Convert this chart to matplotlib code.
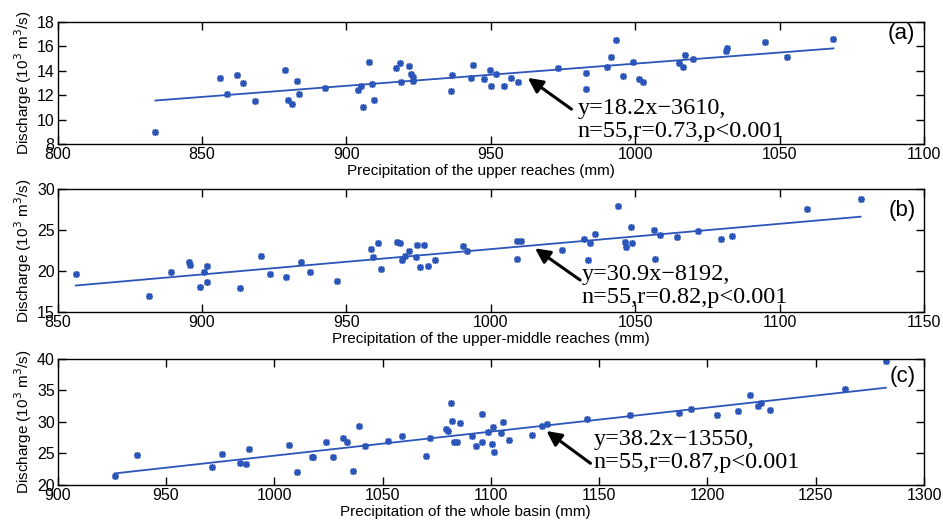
import numpy as np
from matplotlib import pyplot as plt
from matplotlib.ticker import MultipleLocator

# panel (a): upper reaches
prec_upper = [833.9, 856.1, 858.7, 862.2, 864.2, 868.3, 878.8, 879.9, 881.3, 883.0,
              883.5, 892.6, 904.0, 905.1, 905.8, 907.9, 908.7, 909.4, 917.1, 918.5,
              918.8, 921.7, 922.3, 922.9, 923.1, 936.5, 936.3, 943.7, 943.1, 947.7,
              949.7, 950.2, 951.7, 954.7, 956.9, 959.5, 973.4, 982.8, 982.8, 990.1,
              991.5, 993.2, 995.9, 999.1, 1001.4, 1002.6, 1015.2, 1016.5, 1017.1, 1019.9,
              1031.6, 1031.5, 1045.0, 1052.4, 1068.6]
dis_upper = [8.98, 13.40, 12.11, 13.62, 13.04, 11.51, 14.05, 11.62, 11.29, 13.18,
             12.09, 12.63, 12.41, 12.74, 11.05, 14.70, 12.93, 11.62, 14.21, 14.65,
             13.07, 14.38, 13.73, 13.18, 13.48, 13.64, 12.33, 14.48, 13.40, 13.34,
             14.05, 12.77, 13.72, 12.77, 13.45, 13.12, 14.24, 13.80, 12.47, 14.35,
             15.17, 16.56, 13.61, 14.70, 13.37, 13.10, 14.62, 14.32, 15.33, 14.98,
             15.90, 15.63, 16.37, 15.11, 16.64]

# panel (b): upper-middle reaches
prec_mid = [856.3, 881.7, 889.4, 895.6, 895.9, 899.4, 900.6, 901.6, 901.7, 913.1,
            920.6, 923.7, 929.2, 934.3, 937.4, 946.7, 958.4, 959.1, 960.8, 961.9,
            967.5, 968.4, 969.3, 970.3, 971.6, 974.0, 974.6, 975.4, 977.0, 978.2,
            980.8, 990.3, 991.6, 1009.1, 1010.3, 1009.1, 1024.5, 1032.2, 1034.3, 1033.5,
            1036.0, 1044.1, 1046.4, 1046.9, 1048.5, 1048.7, 1056.5, 1056.9, 1058.7, 1064.6,
            1071.8, 1079.7, 1083.4, 1109.3, 1128.0]
dis_mid = [19.72, 17.03, 19.92, 21.10, 20.73, 18.09, 19.96, 20.69, 18.74, 17.93,
           21.91, 19.63, 19.27, 21.14, 19.88, 18.82, 22.68, 21.71, 23.49, 20.33,
           23.54, 23.49, 21.42, 21.87, 22.52, 21.71, 23.25, 20.57, 23.25, 20.69,
           21.42, 23.05, 22.44, 23.70, 23.66, 21.46, 22.56, 23.94, 23.50, 21.38,
           24.51, 27.97, 23.58, 22.93, 25.45, 23.41, 25.00, 21.54, 24.47, 24.23,
           24.88, 23.94, 24.31, 27.56, 28.78]

# panel (c): whole basin
prec_whole = [926.4, 936.9, 971.1, 975.7, 984.2, 986.8, 988.6, 1006.8, 1010.4, 1017.4,
              1018.1, 1023.7, 1027.3, 1031.9, 1033.6, 1036.4, 1039.3, 1041.9, 1052.7, 1058.8,
              1070.0, 1071.9, 1079.4, 1080.0, 1081.7, 1081.9, 1083.1, 1084.3, 1085.9, 1091.4,
              1093.1, 1095.7, 1096.0, 1098.9, 1100.8, 1100.6, 1101.5, 1104.5, 1105.5, 1108.5,
              1119.2, 1123.8, 1126.0, 1144.5, 1164.2, 1186.9, 1192.3, 1204.2, 1213.9, 1219.5,
              1223.1, 1224.6, 1228.9, 1263.5, 1282.3]
dis_whole = [21.48, 24.71, 22.86, 24.97, 23.49, 23.33, 25.66, 26.30, 22.06, 24.44,
             24.44, 26.77, 24.39, 27.41, 26.88, 22.22, 29.37, 26.24, 26.98, 27.83,
             24.60, 27.41, 28.84, 28.57, 33.02, 30.21, 26.77, 26.77, 29.89, 27.77,
             26.24, 31.27, 26.83, 28.36, 29.15, 26.46, 25.29, 28.31, 30.05, 27.09,
             27.94, 29.42, 29.63, 30.42, 31.06, 31.48, 32.06, 31.11, 31.69, 34.23,
             32.49, 33.02, 31.90, 35.29, 39.68]

# regression: y = slope*x - offset (m3/s), plotted in 10^3 m3/s
slopes = [18.2, 30.9, 38.2]
offsets = [3610, 8192, 13550]
r_values = ["0.73", "0.82", "0.87"]
panel_tags = ["(a)", "(b)", "(c)"]
xlabels = ["Precipitation of the upper reaches (mm)",
           "Precipitation of the upper-middle reaches (mm)",
           "Precipitation of the whole basin (mm)"]
xlims = [(800, 1100), (850, 1150), (900, 1300)]
ylims = [(8, 18), (15, 30), (20, 40)]
ysteps = [2, 5, 5]

# annotation geometry (data coords): arrow tip, arrow tail, baseline of last text line
arrow_tips = [(962.8, 13.42), (1015.3, 22.80), (1125.7, 28.57)]
arrow_tails = [(977.9, 10.86), (1030.9, 18.94), (1146.0, 23.44)]
text_pos = [(980.1, 8.60), (1031.4, 16.17), (1147.5, 22.65)]
tag_pos = [(0.99, 0.91), (0.99, 0.83), (0.99, 0.86)]
xlabel_x = [0.489, 0.5, 0.47]

BLUE = "#2b55b8"
plt.rcParams["font.family"] = ["Liberation Sans", "DejaVu Sans"]


def draw_panel(ax, x, y, i):
    ax.plot(x, y, linestyle="none", marker=(8, 2, 0), markersize=5,
            markeredgewidth=1.1, color=BLUE)
    xs = np.array([min(x), max(x)])
    ax.plot(xs, (slopes[i] * xs - offsets[i]) / 1000.0, color=BLUE, lw=1.3)

    ax.set_xlim(*xlims[i])
    ax.set_ylim(*ylims[i])
    ax.xaxis.set_major_locator(MultipleLocator(50))
    ax.yaxis.set_major_locator(MultipleLocator(ysteps[i]))
    ax.tick_params(direction="in", top=True, right=True, length=6, width=1,
                   labelsize=11.5)
    ax.tick_params(axis="x", pad=2)
    ax.tick_params(axis="y", pad=2)
    for sp in ax.spines.values():
        sp.set_linewidth(1)
    ax.set_xlabel(xlabels[i], fontsize=11, labelpad=0)
    ax.xaxis.set_label_coords(xlabel_x[i], -0.16)
    ax.set_ylabel("Discharge (10$^3$ m$^3$/s)", fontsize=11, labelpad=2)

    ax.annotate("", xy=arrow_tips[i], xytext=arrow_tails[i],
                arrowprops=dict(arrowstyle="-|>", color="k", lw=2.2,
                                mutation_scale=22, shrinkA=0, shrinkB=0))
    label = "y=%sx\u2212%d,\nn=55,r=%s,p<0.001" % (slopes[i], offsets[i], r_values[i])
    ax.text(text_pos[i][0], text_pos[i][1], label, family="Liberation Serif",
            fontsize=17.5, va="baseline", ha="left", linespacing=1.13)
    ax.text(tag_pos[i][0], tag_pos[i][1], panel_tags[i], transform=ax.transAxes,
            fontsize=16, ha="right", va="center")


fig = plt.figure(figsize=(9.43, 5.22), dpi=100)
left, width = 0.061, 0.919
ax_a = fig.add_axes([left, 0.7241, width, 0.2337])
ax_b = fig.add_axes([left, 0.4017, width, 0.2356])
ax_c = fig.add_axes([left, 0.0709, width, 0.2414])

draw_panel(ax_a, prec_upper, dis_upper, 0)
draw_panel(ax_b, prec_mid, dis_mid, 1)
draw_panel(ax_c, prec_whole, dis_whole, 2)

fig.savefig("out.png", dpi=100)
